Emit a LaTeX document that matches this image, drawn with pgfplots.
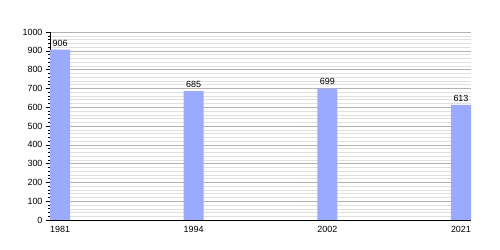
\documentclass[border=0pt]{standalone}
\usepackage{fontspec}
\setmainfont{Liberation Sans}
\usepackage{pgfplots}
\pgfplotsset{compat=1.18}
\definecolor{barc}{RGB}{153,170,255}
\begin{document}
\begin{tikzpicture}
\path (-50bp,-30bp) rectangle (450bp,220bp);
\begin{axis}[
  at={(0,0)}, anchor=south west,
  scale only axis, width=421bp, height=188bp,
  xmin=-0.075, xmax=3.075, ymin=0, ymax=1000,
  axis x line*=bottom, axis y line*=left,
  axis line style={black, line width=0.8pt, -},
  xtick=data, xticklabels={1981,1994,2002,2021},
  x tick style={draw=none},
  ytick={0,100,...,1000},
  minor y tick num=4,
  y tick style={black, line width=0.5pt},
  tick align=outside,
  major tick length=4bp, minor tick length=2bp,
  ymajorgrids, yminorgrids,
  major grid style={draw=black!30, line width=0.5pt},
  minor grid style={draw=black!12, line width=0.4pt},
  tick label style={font=\fontsize{9}{10}\selectfont},
  /pgf/number format/assume math mode=true,
  /pgf/number format/1000 sep={},
  xticklabel style={yshift=1bp},
  ybar, bar width=0.15, bar shift=0pt,
  nodes near coords,
  nodes near coords style={font=\fontsize{9}{10}\selectfont, black, /pgf/number format/assume math mode=true},
]
\addplot[fill=barc, draw=none] coordinates {(0,906) (1,685) (2,699) (3,613)};
\end{axis}
\end{tikzpicture}
\end{document}
